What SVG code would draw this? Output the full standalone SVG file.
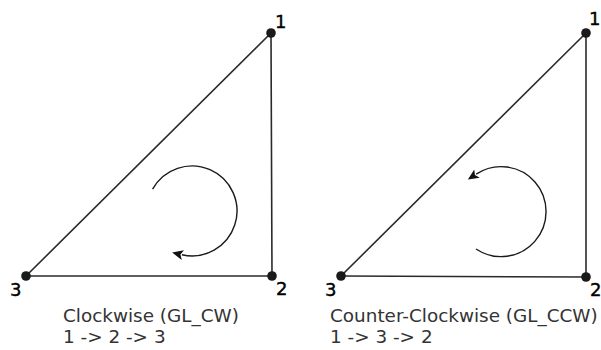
<svg xmlns="http://www.w3.org/2000/svg" width="601" height="350" viewBox="0 0 601 350">
<defs>
<style>
.edge{stroke:#2a2a2a;stroke-width:1.6;fill:none;stroke-linecap:round}
.arc{stroke:#1a1a1a;stroke-width:1.4;fill:none}
.dot{fill:#1a1a1a}
.num{font-family:"DejaVu Sans",sans-serif;font-size:18px;fill:#000;stroke:#000;stroke-width:0.4}
.cap{font-family:"DejaVu Sans",sans-serif;font-size:18.4px;fill:#333}
</style>
<marker id="ah" markerUnits="userSpaceOnUse" markerWidth="13" markerHeight="11" refX="1" refY="5" orient="auto" viewBox="0 0 13 10">
<path d="M0,0 L11,5 L0,10 L2.5,5 z" fill="#111"/>
</marker>
</defs>
<rect width="601" height="350" fill="#fff"/>
<g id="connectors">
<line class="edge" x1="271" y1="33" x2="272" y2="276"/>
<line class="edge" x1="272" y1="276" x2="26" y2="276"/>
<line class="edge" x1="26" y1="276" x2="271" y2="33"/>
<line class="edge" x1="586" y1="33" x2="586" y2="277"/>
<line class="edge" x1="586" y1="277" x2="341" y2="276"/>
<line class="edge" x1="341" y1="276" x2="586" y2="33"/>
<path class="arc" d="M152.6,189.2 A45,45 0 1 1 181.9,254.8" marker-end="url(#ah)"/>
<path class="arc" d="M476,249 A45,45 0 1 0 476.2,174.1" marker-end="url(#ah)"/>
</g>
<g id="cw">
<g id="cw-v1"><circle class="dot" cx="271" cy="33" r="4.8"/><text class="num" x="275" y="28">1</text></g>
<g id="cw-v2"><circle class="dot" cx="272" cy="276" r="4.8"/><text class="num" x="276" y="295">2</text></g>
<g id="cw-v3"><circle class="dot" cx="26" cy="276" r="4.8"/><text class="num" x="10" y="296">3</text></g>
<g id="cw-caption"><text class="cap" x="63" y="322">Clockwise (GL_CW)</text><text class="cap" x="63" y="343">1 -&gt; 2 -&gt; 3</text></g>
</g>
<g id="ccw">
<g id="ccw-v1"><circle class="dot" cx="586" cy="33" r="4.8"/><text class="num" x="589" y="25">1</text></g>
<g id="ccw-v2"><circle class="dot" cx="586" cy="277" r="4.8"/><text class="num" x="590" y="296">2</text></g>
<g id="ccw-v3"><circle class="dot" cx="341" cy="276" r="4.8"/><text class="num" x="325" y="296">3</text></g>
<g id="ccw-caption"><text class="cap" x="330" y="322">Counter-Clockwise (GL_CCW)</text><text class="cap" x="330" y="343">1 -&gt; 3 -&gt; 2</text></g>
</g>
</svg>
